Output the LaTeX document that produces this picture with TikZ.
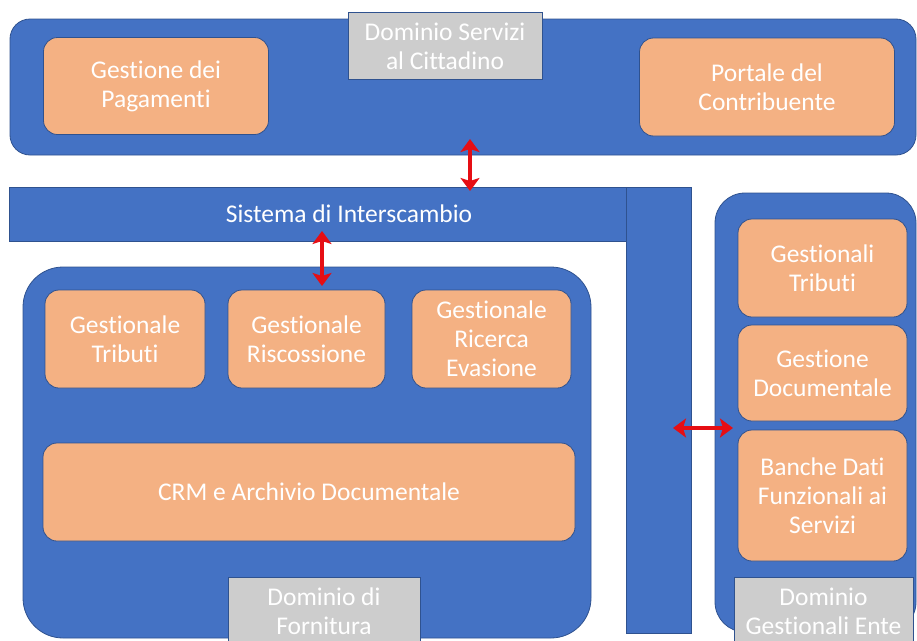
\documentclass[tikz,border=0pt]{standalone}
\usepackage{fontspec}
\setmainfont{Carlito}[Ligatures=NoCommon]
\usetikzlibrary{arrows.meta}

\definecolor{dblue}{HTML}{4472C4}
\definecolor{dline}{HTML}{2F528F}
\definecolor{sorange}{HTML}{F4B183}
\definecolor{lgray}{HTML}{CDCDCD}
\definecolor{sred}{HTML}{E60E14}

\begin{document}
\begin{tikzpicture}[x=1pt,y=-1pt,
    dominio/.style={draw=dline, line width=0.8pt, fill=dblue, rounded corners=#1},
    dominio/.default=20pt,
    servizio/.style={draw=dline, line width=0.8pt, fill=sorange, rounded corners=14pt, text=white,
        align=center, font=\fontsize{25.5}{29}\selectfont, inner sep=0pt},
    etichetta/.style={draw=dline, line width=0.5pt, fill=lgray, text=white,
        align=center, font=\fontsize{25.5}{29}\selectfont, inner sep=0pt},
    barra/.style={draw=dline, line width=0.8pt, fill=dblue, inner sep=0pt},
    scambio/.style={sred, line width=3.5pt, {Stealth[length=13pt,width=19pt,inset=3pt]}-{Stealth[length=13pt,width=19pt,inset=3pt]}}]
    \useasboundingbox (0,0) rectangle (917,640);
    \begin{scope}
    \clip (0,0) rectangle (917,640);
    % domini
    \node[dominio, minimum width=906pt, minimum height=136pt] at (463,87) (cittadino) {};
    \node[dominio=40pt, minimum width=568pt, minimum height=371pt] at (307,452.5) (fornitura) {};
    \node[dominio=30pt, minimum width=201pt, minimum height=439pt] at (815.5,412.5) (ente) {};
    % sistema di interscambio
    \node[barra, minimum width=617pt, minimum height=54pt] at (317.5,214) (sdi) {};
    \node[barra, minimum width=65pt, minimum height=446pt] at (658.5,410) (sdiv) {};
    \node[text=white, font=\fontsize{25.5}{29}\selectfont] at (349,214) {Sistema di Interscambio};
    % cittadino
    \node[servizio, minimum width=225pt, minimum height=97pt] at (156,86) (pagamenti) {Gestione dei\\Pagamenti};
    \node[servizio, minimum width=255pt, minimum height=98pt] at (767,87) (portale) {Portale del\\Contribuente};
    \node[etichetta, minimum width=194pt, minimum height=67pt] at (445,46) (lcittadino) {Dominio Servizi\\al Cittadino};
    % fornitura
    \node[servizio, minimum width=160pt, minimum height=98pt] at (125,339) (tributi) {Gestionale\\Tributi};
    \node[servizio, minimum width=157pt, minimum height=98pt] at (306.5,339) (riscossione) {Gestionale\\Riscossione};
    \node[servizio, minimum width=159pt, minimum height=98pt] at (491.5,339) (evasione) {Gestionale\\Ricerca\\Evasione};
    \node[servizio, minimum width=532pt, minimum height=98pt] at (309,492) (crm) {CRM e Archivio Documentale};
    \node[etichetta, minimum width=192pt, minimum height=67pt] at (324,611) (lfornitura) {Dominio di\\Fornitura};
    % ente
    \node[servizio, minimum width=169pt, minimum height=98pt] at (822.5,268) (etributi) {Gestionali\\Tributi};
    \node[servizio, minimum width=169pt, minimum height=96pt] at (822.5,373) (documentale) {Gestione\\Documentale};
    \node[servizio, minimum width=169pt, minimum height=131pt] at (822.5,495.5) (banche) {Banche Dati\\Funzionali ai\\Servizi};
    \node[etichetta, minimum width=179pt, minimum height=68pt] at (823.5,611) (lente) {Dominio\\Gestionali Ente};
    \end{scope}
    % frecce
    \coordinate (a1) at (470,139);
    \coordinate (b1) at (470,191);
    \coordinate (a2) at (322,231);
    \coordinate (b2) at (322,286);
    \coordinate (a3) at (673,428);
    \coordinate (b3) at (733,428);
    \draw[scambio] (a1) -- (b1);
    \draw[scambio] (a2) -- (b2);
    \draw[scambio] (a3) -- (b3);
\end{tikzpicture}
\end{document}
